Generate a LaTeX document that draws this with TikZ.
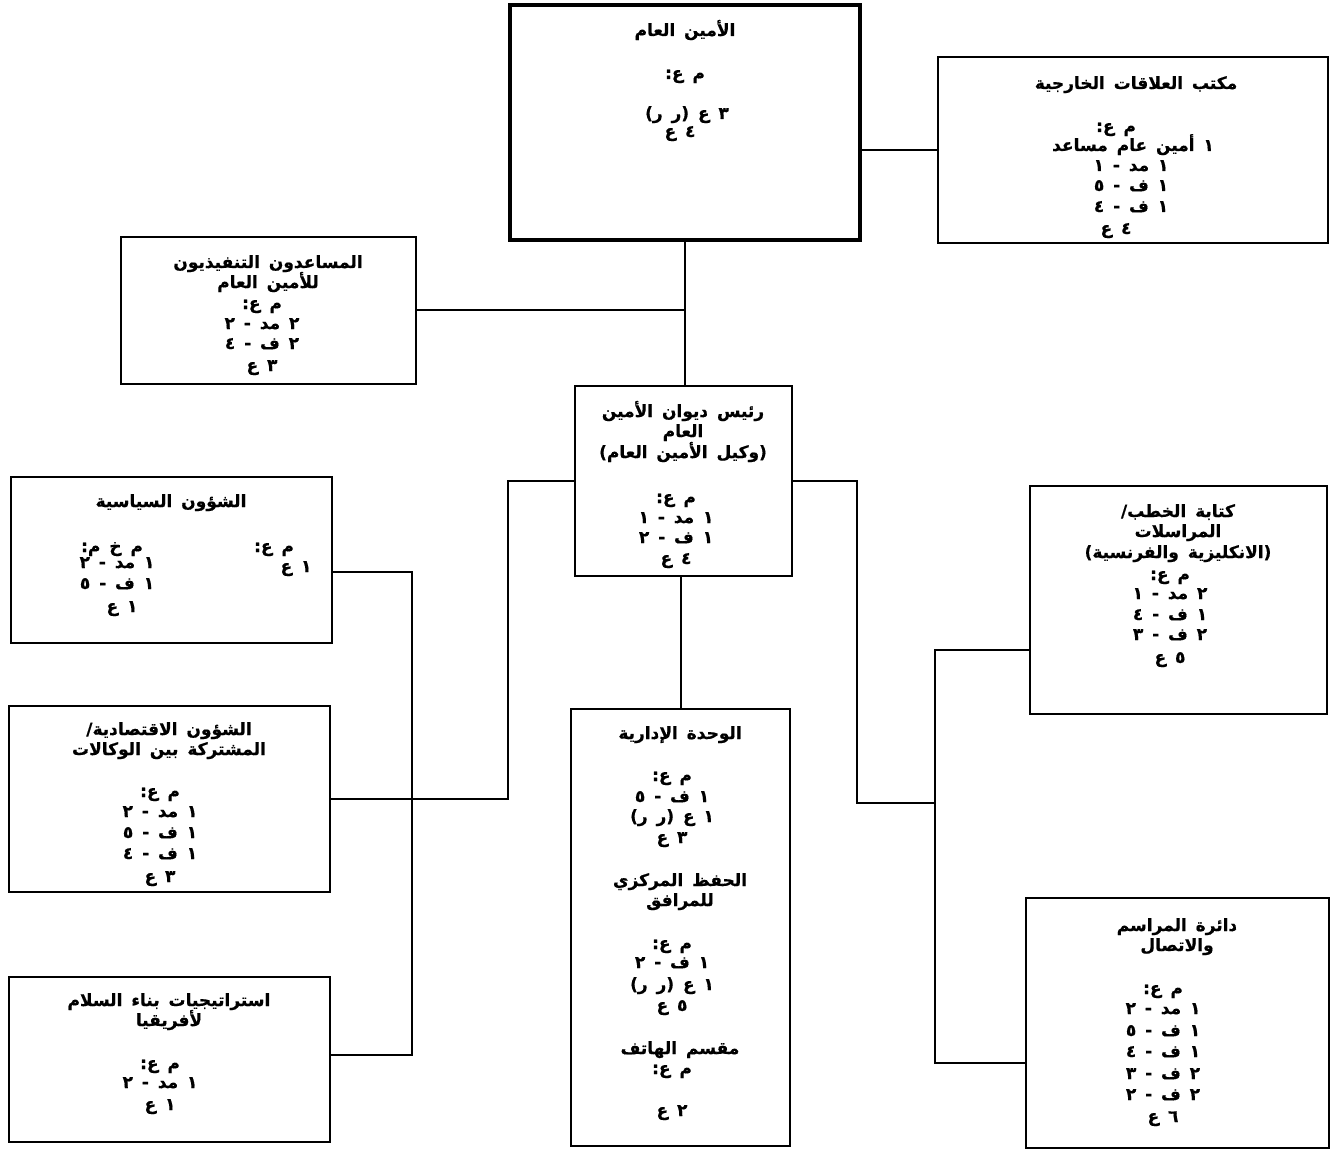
\documentclass[tikz,border=0pt]{standalone}
\usepackage{fontspec}
\newfontfamily\arfont[Script=Arabic,WordSpace=1.5,FakeBold=0.6]{DejaVu Sans}
\TeXXeTstate=1
\newcommand\artl[4]{\node[txt] (#1) at (#2,#3) {#4};}
\begin{document}
\begin{tikzpicture}[x=1pt,y=-1pt,
  txt/.style={anchor=base, inner sep=0pt, font=\arfont\bfseries\fontsize{17}{20}\selectfont},
  box/.style={draw, line width=1.4pt, inner sep=0pt, fill=white},
  link/.style={line width=1.4pt}]
\useasboundingbox[fill=white] (0,0) rectangle (1335,1150);
% boxes
\node[box, line width=3.2pt, minimum width=350pt, minimum height=235pt] (sg) at (685,122.5) {};
\node[box, minimum width=390pt, minimum height=186pt] (ext) at (1133,150) {};
\node[box, minimum width=295pt, minimum height=147pt] (exec) at (268.5,310.5) {};
\node[box, minimum width=217pt, minimum height=190pt] (chef) at (683.5,481) {};
\node[box, minimum width=321pt, minimum height=166pt] (pol) at (171.5,560) {};
\node[box, minimum width=297pt, minimum height=228pt] (speech) at (1178.5,600) {};
\node[box, minimum width=321pt, minimum height=186pt] (econ) at (169.5,799) {};
\node[box, minimum width=219pt, minimum height=437pt] (admin) at (680.5,927.5) {};
\node[box, minimum width=321pt, minimum height=165pt] (peace) at (169.5,1059.5) {};
\node[box, minimum width=303pt, minimum height=250pt] (proto) at (1177.5,1023) {};
% connectors
\coordinate (lj) at (508,481);
\coordinate (rj) at (857,481);
\coordinate (pj) at (412,572);
\coordinate (qj) at (935,803);
\coordinate (aj) at (681,600);
\draw[link] (sg.south) -- (sg.south |- chef.north);
\draw[link] (exec.east |- 0,310) -- (sg.south |- 0,310);
\draw[link] (sg.east |- ext.west) -- (ext.west);
\draw[link] (aj |- chef.south) -- (aj |- admin.north);
\draw[link] (chef.west) -- (lj) |- (econ.east);
\draw[link] (pol.east |- pj) -- (pj) |- (peace.east |- 0,1055);
\draw[link] (chef.east) -- (rj) |- (qj);
\draw[link] (speech.west |- 0,650) -| (qj) |- (proto.west |- 0,1063);
% texts: SG
\artl{sg1}{685}{36}{\beginR الأمين العام\endR}
\artl{sg2}{685}{79}{\beginR م ع:\endR}
\artl{sg3}{687}{119}{\beginR ٣ ع (ر ر)\endR}
\artl{sg4}{680}{137}{\beginR ٤ ع\endR}
% external relations
\artl{ex1}{1136}{89}{\beginR مكتب العلاقات الخارجية\endR}
\artl{ex2}{1116}{132}{\beginR م ع:\endR}
\artl{ex3}{1133}{151}{\beginR ١ أمين عام مساعد\endR}
\artl{ex4}{1131}{171}{\beginR ١ مد - ١\endR}
\artl{ex5}{1131}{191}{\beginR ١ ف - ٥\endR}
\artl{ex6}{1131}{212}{\beginR ١ ف - ٤\endR}
\artl{ex7}{1116}{234}{\beginR ٤ ع\endR}
% executive assistants
\artl{ea1}{268}{268}{\beginR المساعدون التنفيذيون\endR}
\artl{ea2}{268}{288}{\beginR للأمين العام\endR}
\artl{ea3}{262}{309}{\beginR م ع:\endR}
\artl{ea4}{262}{329}{\beginR ٢ مد - ٢\endR}
\artl{ea5}{262}{349}{\beginR ٢ ف - ٤\endR}
\artl{ea6}{262}{371}{\beginR ٣ ع\endR}
% chef de cabinet
\artl{ch1}{683}{417}{\beginR رئيس ديوان الأمين\endR}
\artl{ch2}{683}{437}{\beginR العام\endR}
\artl{ch3}{683}{458}{\beginR (وكيل الأمين العام)\endR}
\artl{ch4}{676}{503}{\beginR م ع:\endR}
\artl{ch5}{676}{523}{\beginR ١ مد - ١\endR}
\artl{ch6}{676}{543}{\beginR ١ ف - ٢\endR}
\artl{ch7}{676}{564}{\beginR ٤ ع\endR}
% political affairs
\artl{po1}{171}{507}{\beginR الشؤون السياسية\endR}
\artl{po2}{274}{552}{\beginR م ع:\endR}
\artl{po3}{296}{572}{\beginR ١ ع\endR}
\artl{po4}{112}{552}{\beginR م خ م:\endR}
\artl{po5}{117}{568}{\beginR ١ مد - ٢\endR}
\artl{po6}{117}{589}{\beginR ١ ف - ٥\endR}
\artl{po7}{122}{612}{\beginR ١ ع\endR}
% speechwriting
\artl{sp1}{1178}{517}{\beginR كتابة الخطب/\endR}
\artl{sp2}{1178}{537}{\beginR المراسلات\endR}
\artl{sp3}{1178}{558}{\beginR (الانكليزية والفرنسية)\endR}
\artl{sp4}{1170}{580}{\beginR م ع:\endR}
\artl{sp5}{1170}{599}{\beginR ٢ مد - ١\endR}
\artl{sp6}{1170}{620}{\beginR ١ ف - ٤\endR}
\artl{sp7}{1170}{640}{\beginR ٢ ف - ٣\endR}
\artl{sp8}{1170}{663}{\beginR ٥ ع\endR}
% economic affairs
\artl{ec1}{169}{735}{\beginR الشؤون الاقتصادية/\endR}
\artl{ec2}{169}{755}{\beginR المشتركة بين الوكالات\endR}
\artl{ec3}{160}{797}{\beginR م ع:\endR}
\artl{ec4}{160}{817}{\beginR ١ مد - ٢\endR}
\artl{ec5}{160}{838}{\beginR ١ ف - ٥\endR}
\artl{ec6}{160}{859}{\beginR ١ ف - ٤\endR}
\artl{ec7}{160}{882}{\beginR ٣ ع\endR}
% administrative unit
\artl{ad1}{680}{739}{\beginR الوحدة الإدارية\endR}
\artl{ad2}{672}{781}{\beginR م ع:\endR}
\artl{ad3}{672}{802}{\beginR ١ ف - ٥\endR}
\artl{ad4}{672}{822}{\beginR ١ ع (ر ر)\endR}
\artl{ad5}{672}{843}{\beginR ٣ ع\endR}
\artl{ad6}{680}{886}{\beginR الحفظ المركزي\endR}
\artl{ad7}{680}{906}{\beginR للمرافق\endR}
\artl{ad8}{672}{949}{\beginR م ع:\endR}
\artl{ad9}{672}{968}{\beginR ١ ف - ٢\endR}
\artl{ad10}{672}{990}{\beginR ١ ع (ر ر)\endR}
\artl{ad11}{672}{1011}{\beginR ٥ ع\endR}
\artl{ad12}{680}{1054}{\beginR مقسم الهاتف\endR}
\artl{ad13}{672}{1074}{\beginR م ع:\endR}
\artl{ad14}{672}{1116}{\beginR ٢ ع\endR}
% peacebuilding
\artl{pb1}{169}{1006}{\beginR استراتيجيات بناء السلام\endR}
\artl{pb2}{169}{1026}{\beginR لأفريقيا\endR}
\artl{pb3}{160}{1069}{\beginR م ع:\endR}
\artl{pb4}{160}{1088}{\beginR ١ مد - ٢\endR}
\artl{pb5}{160}{1110}{\beginR ١ ع\endR}
% protocol
\artl{pr1}{1177}{931}{\beginR دائرة المراسم\endR}
\artl{pr2}{1177}{951}{\beginR والاتصال\endR}
\artl{pr3}{1163}{994}{\beginR م ع:\endR}
\artl{pr4}{1163}{1014}{\beginR ١ مد - ٢\endR}
\artl{pr5}{1163}{1036}{\beginR ١ ف - ٥\endR}
\artl{pr6}{1163}{1057}{\beginR ١ ف - ٤\endR}
\artl{pr7}{1163}{1079}{\beginR ٢ ف - ٣\endR}
\artl{pr8}{1163}{1100}{\beginR ٢ ف - ٢\endR}
\artl{pr9}{1163}{1122}{\beginR ٦ ع\endR}
\end{tikzpicture}
\end{document}
